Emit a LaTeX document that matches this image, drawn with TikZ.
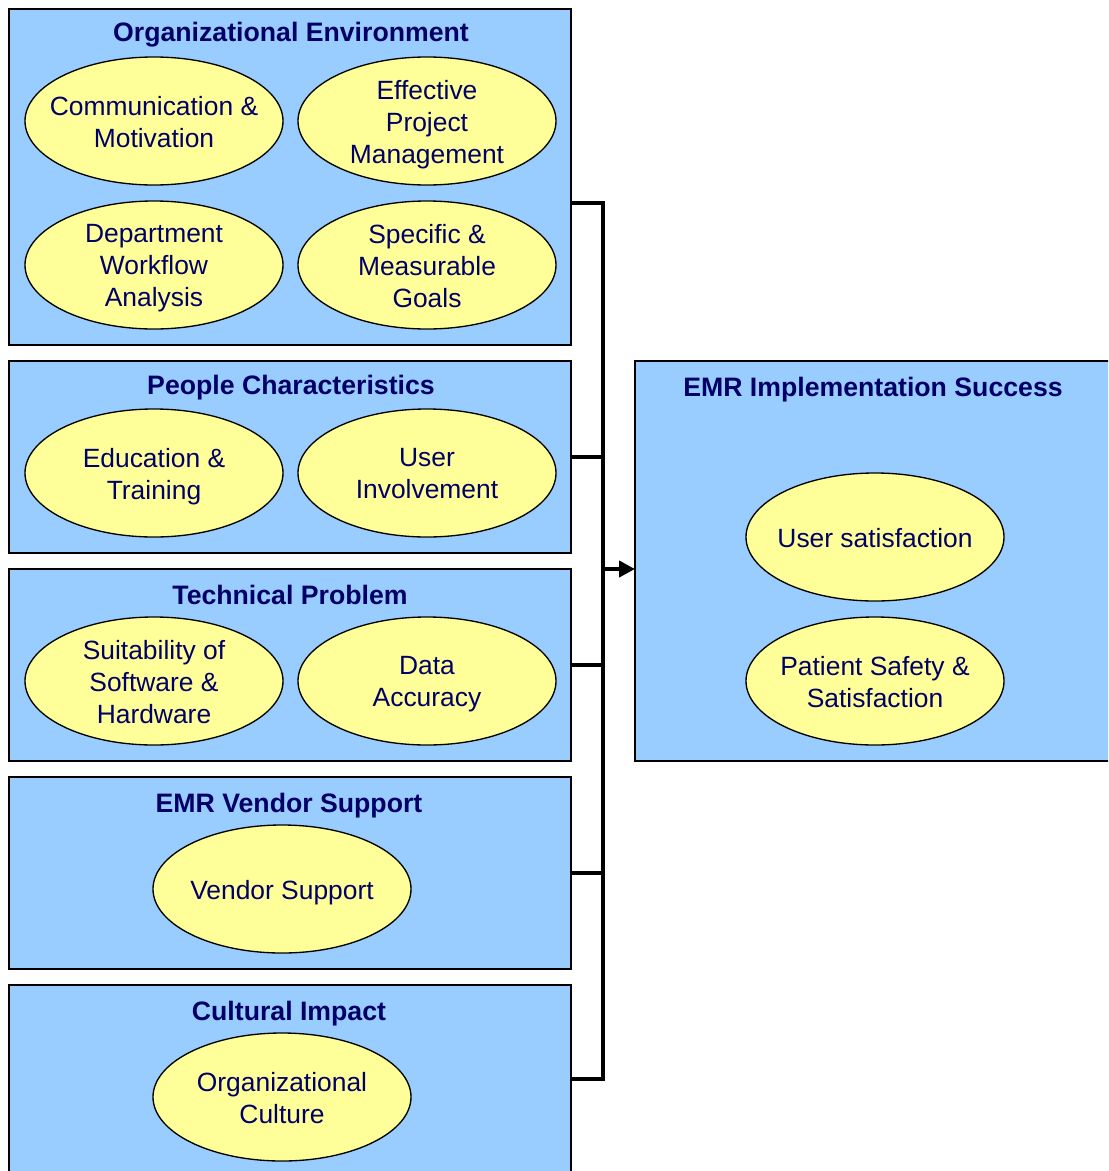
\documentclass[tikz,border=0pt]{standalone}
\usepackage{fontspec}
\setmainfont{Liberation Sans}
\usetikzlibrary{arrows.meta,shapes.geometric}
\definecolor{boxblue}{HTML}{99CCFF}
\definecolor{ovalyellow}{HTML}{FFFF99}
\definecolor{navy}{HTML}{000066}
\begin{document}
\begin{tikzpicture}[x=0.75pt,y=-0.75pt,
  groupbox/.style={draw=black,line width=1pt,fill=boxblue},
  grouptitle/.style={text=navy,font=\fontsize{20}{24}\selectfont\bfseries,anchor=base,inner sep=0pt},
  factor/.style={ellipse,draw=black,line width=1pt,fill=ovalyellow,
    minimum width=193.5pt,minimum height=96pt,inner sep=0pt},
  factortext/.style={inner sep=0pt,align=center,text depth=4.2pt,yshift=-2.6pt,
    text=navy,font=\fontsize{19.8}{24}\selectfont},
  link/.style={line width=3pt,line cap=butt}]
\useasboundingbox (0,0) rectangle (1108,1171);
\begin{scope}
\clip (0,0) rectangle (1108,1171);

% factor groups on the left
\path[groupbox] (9,9) rectangle (571,345);
\path[groupbox] (9,361) rectangle (571,553);
\path[groupbox] (9,569) rectangle (571,761);
\path[groupbox] (9,777) rectangle (571,969);
\path[groupbox] (9,985) rectangle (571,1200);
% outcome group on the right
\path[groupbox] (635,361) rectangle (1130,761);

\node[grouptitle] (t1) at (291,41) {Organizational Environment};
\node[grouptitle] (t2) at (291,394) {People Characteristics};
\node[grouptitle] (t3) at (290,604) {Technical Problem};
\node[grouptitle] (t4) at (289,812) {EMR Vendor Support};
\node[grouptitle] (t5) at (289,1020) {Cultural Impact};
\node[grouptitle] (t6) at (873,396) {EMR Implementation Success};

% factor ovals
\node[factor] (comm) at (154,121) {};
\node[factor] (proj) at (427,121) {};
\node[factor] (dept) at (154,265) {};
\node[factor] (goal) at (427,265) {};
\node[factor] (edu) at (154,473) {};
\node[factor] (user) at (427,473) {};
\node[factor] (suit) at (154,681) {};
\node[factor] (data) at (427,681) {};
\node[factor] (vend) at (282,889) {};
\node[factor] (cult) at (282,1097) {};
\node[factor] (usat) at (875,537) {};
\node[factor] (pat) at (875,681) {};

% factor labels
\node[factortext] (comm-t) at (comm) {Communication \&\\Motivation};
\node[factortext] (proj-t) at (proj) {Effective\\Project\\Management};
\node[factortext] (dept-t) at (dept) {Department\\Workflow\\Analysis};
\node[factortext] (goal-t) at (goal) {Specific \&\\Measurable\\Goals};
\node[factortext] (edu-t) at (edu) {Education \&\\Training};
\node[factortext] (user-t) at (user) {User\\Involvement};
\node[factortext] (suit-t) at (suit) {Suitability of\\Software \&\\Hardware};
\node[factortext] (data-t) at (data) {Data\\Accuracy};
\node[factortext] (vend-t) at (vend) {Vendor Support};
\node[factortext] (cult-t) at (cult) {Organizational\\Culture};
\node[factortext] (usat-t) at (usat) {User satisfaction};
\node[factortext] (pat-t) at (pat) {Patient Safety \&\\Satisfaction};

% connectors
\coordinate (g1) at (571,203);
\coordinate (g2) at (571,457);
\coordinate (g3) at (571,665);
\coordinate (g4) at (571,873);
\coordinate (g5) at (571,1079);
\coordinate (top) at (603,203);
\coordinate (bot) at (603,1079);
\coordinate (j2) at (603,457);
\coordinate (j3) at (603,665);
\coordinate (j4) at (603,873);
\coordinate (join) at (603,569);
\coordinate (target) at (635,569);

\draw[link] (g1) -- (top) -- (bot) -- (g5);
\draw[link] (g2) -- (j2);
\draw[link] (g3) -- (j3);
\draw[link] (g4) -- (j4);
\draw[line width=3pt,-{Triangle[length=12pt,width=12pt]}] (join) -- (target);
\end{scope}
\end{tikzpicture}
\end{document}
